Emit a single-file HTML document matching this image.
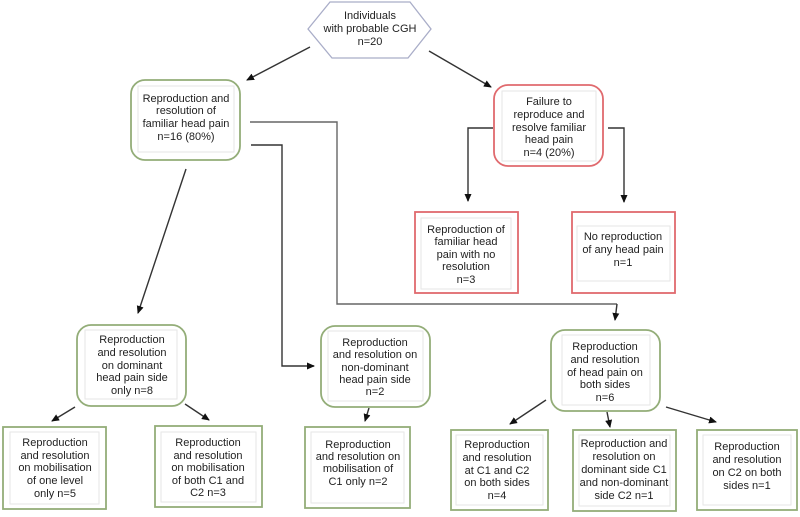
<!DOCTYPE html>
<html><head><meta charset="utf-8"><style>
html,body{margin:0;padding:0;background:#fff;}
svg{display:block;}
text{font-family:"Liberation Sans",Arial,sans-serif;font-size:11px;fill:#222;text-anchor:middle;}
.g{fill:#fff;stroke:#93ad78;stroke-width:1.8;}
.r{fill:#fff;stroke:#e06a6e;stroke-width:1.8;}
.in{fill:none;stroke:#e6e6e6;stroke-width:1;}
.l{fill:none;stroke:#333;stroke-width:1.4;}
.d{fill:none;stroke:#666;stroke-width:1.4;}
</style></head><body>
<svg width="800" height="517" viewBox="0 0 800 517" xmlns="http://www.w3.org/2000/svg">
<defs><marker id="a" markerWidth="8" markerHeight="8" refX="7" refY="4" orient="auto" markerUnits="userSpaceOnUse"><path d="M0,0.5 L8,4 L0,7.5 z" fill="#111"/></marker></defs>

<!-- hexagon -->
<polygon points="308,29 330,2 410,2 431,29 408,58 332,58" fill="#fff" stroke="#a9adc8" stroke-width="1.3"/>
<text x="370" y="19">Individuals</text>
<text x="370" y="32">with probable CGH</text>
<text x="370" y="45">n=20</text>

<!-- connectors -->
<line class="l" x1="310" y1="47" x2="247" y2="80" marker-end="url(#a)"/>
<line class="l" x1="429" y1="51" x2="491" y2="87" marker-end="url(#a)"/>
<polyline class="d" points="250,122 337,122 337,304 617,304"/>
<line class="l" x1="617" y1="304" x2="615" y2="320" marker-end="url(#a)"/>
<polyline class="l" points="251,145 282,145 282,366 314,366" marker-end="url(#a)"/>
<line class="l" x1="186" y1="169" x2="138" y2="313" marker-end="url(#a)"/>
<polyline class="l" points="493,128 468,128 468,201" marker-end="url(#a)"/>
<polyline class="l" points="608,128 624,128 624,202" marker-end="url(#a)"/>
<line class="l" x1="75" y1="407" x2="52" y2="421" marker-end="url(#a)"/>
<line class="l" x1="185" y1="404" x2="209" y2="420" marker-end="url(#a)"/>
<line class="l" x1="369" y1="408" x2="365" y2="421" marker-end="url(#a)"/>
<line class="l" x1="546" y1="400" x2="510" y2="424" marker-end="url(#a)"/>
<line class="l" x1="607" y1="412" x2="610" y2="427" marker-end="url(#a)"/>
<line class="l" x1="666" y1="407" x2="716" y2="422" marker-end="url(#a)"/>

<!-- box1 -->
<rect class="g" x="131" y="80" width="109" height="80" rx="14"/>
<rect class="in" x="138" y="86" width="96" height="66"/>
<text x="186" y="102">Reproduction and</text>
<text x="186" y="114">resolution of</text>
<text x="186" y="127">familiar head pain</text>
<text x="186" y="140">n=16  (80%)</text>

<!-- red box -->
<rect class="r" x="494" y="85" width="109" height="81" rx="14"/>
<rect class="in" x="502" y="91" width="94" height="70"/>
<text x="549" y="105">Failure to</text>
<text x="549" y="118">reproduce and</text>
<text x="549" y="131">resolve familiar</text>
<text x="549" y="143">head pain</text>
<text x="549" y="156">n=4  (20%)</text>

<rect class="r" x="415" y="212" width="103" height="81"/>
<rect class="in" x="421" y="218" width="90" height="71"/>
<text x="466" y="233">Reproduction of</text>
<text x="466" y="245">familiar head</text>
<text x="466" y="258">pain with no</text>
<text x="466" y="270">resolution</text>
<text x="466" y="283">n=3</text>

<rect class="r" x="572" y="212" width="103" height="81"/>
<rect class="in" x="577" y="226" width="93" height="55"/>
<text x="623" y="240">No reproduction</text>
<text x="623" y="253">of any head pain</text>
<text x="623" y="266">n=1</text>

<!-- middle row -->
<rect class="g" x="77" y="325" width="109" height="81" rx="14"/>
<rect class="in" x="85" y="330" width="92" height="69"/>
<text x="132" y="343">Reproduction</text>
<text x="132" y="356">and resolution</text>
<text x="132" y="369">on dominant</text>
<text x="132" y="381">head pain side</text>
<text x="132" y="394">only n=8</text>

<rect class="g" x="321" y="326" width="109" height="81" rx="14"/>
<rect class="in" x="328" y="331" width="95" height="70"/>
<text x="375" y="346">Reproduction</text>
<text x="375" y="358">and resolution on</text>
<text x="375" y="371">non-dominant</text>
<text x="375" y="383">head pain side</text>
<text x="375" y="395">n=2</text>

<rect class="g" x="551" y="330" width="109" height="81" rx="14"/>
<rect class="in" x="562" y="335" width="88" height="70"/>
<text x="605" y="350">Reproduction</text>
<text x="605" y="363">and resolution</text>
<text x="605" y="376">of head pain on</text>
<text x="605" y="388">both sides</text>
<text x="605" y="401">n=6</text>

<!-- bottom row -->
<rect class="g" x="3" y="427" width="103" height="82"/>
<rect class="in" x="10" y="432" width="89" height="72"/>
<text x="55" y="446">Reproduction</text>
<text x="55" y="459">and resolution</text>
<text x="55" y="471">on mobilisation</text>
<text x="55" y="484">of one level</text>
<text x="55" y="497">only n=5</text>

<rect class="g" x="155" y="426" width="107" height="81"/>
<rect class="in" x="161" y="432" width="95" height="70"/>
<text x="208" y="446">Reproduction</text>
<text x="208" y="459">and resolution</text>
<text x="208" y="471">on mobilisation</text>
<text x="208" y="484">of both C1 and</text>
<text x="208" y="496">C2 n=3</text>

<rect class="g" x="305" y="427" width="105" height="81"/>
<rect class="in" x="311" y="432" width="93" height="71"/>
<text x="358" y="448">Reproduction</text>
<text x="358" y="460">and resolution on</text>
<text x="358" y="472">mobilisation of</text>
<text x="358" y="485">C1 only n=2</text>

<rect class="g" x="451" y="430" width="97" height="80"/>
<rect class="in" x="456" y="435" width="87" height="70"/>
<text x="497" y="448">Reproduction</text>
<text x="497" y="461">and resolution</text>
<text x="497" y="474">at C1 and C2</text>
<text x="497" y="486">on both sides</text>
<text x="497" y="499">n=4</text>

<rect class="g" x="573" y="430" width="103" height="81"/>
<rect class="in" x="579" y="435" width="91" height="71"/>
<text x="624" y="447">Reproduction and</text>
<text x="624" y="460">resolution on</text>
<text x="624" y="473">dominant side C1</text>
<text x="624" y="486">and non-dominant</text>
<text x="624" y="499">side C2 n=1</text>

<rect class="g" x="697" y="430" width="100" height="80"/>
<rect class="in" x="703" y="435" width="88" height="70"/>
<text x="747" y="450">Reproduction</text>
<text x="747" y="463">and resolution</text>
<text x="747" y="476">on C2 on both</text>
<text x="747" y="489">sides n=1</text>
</svg>
</body></html>
